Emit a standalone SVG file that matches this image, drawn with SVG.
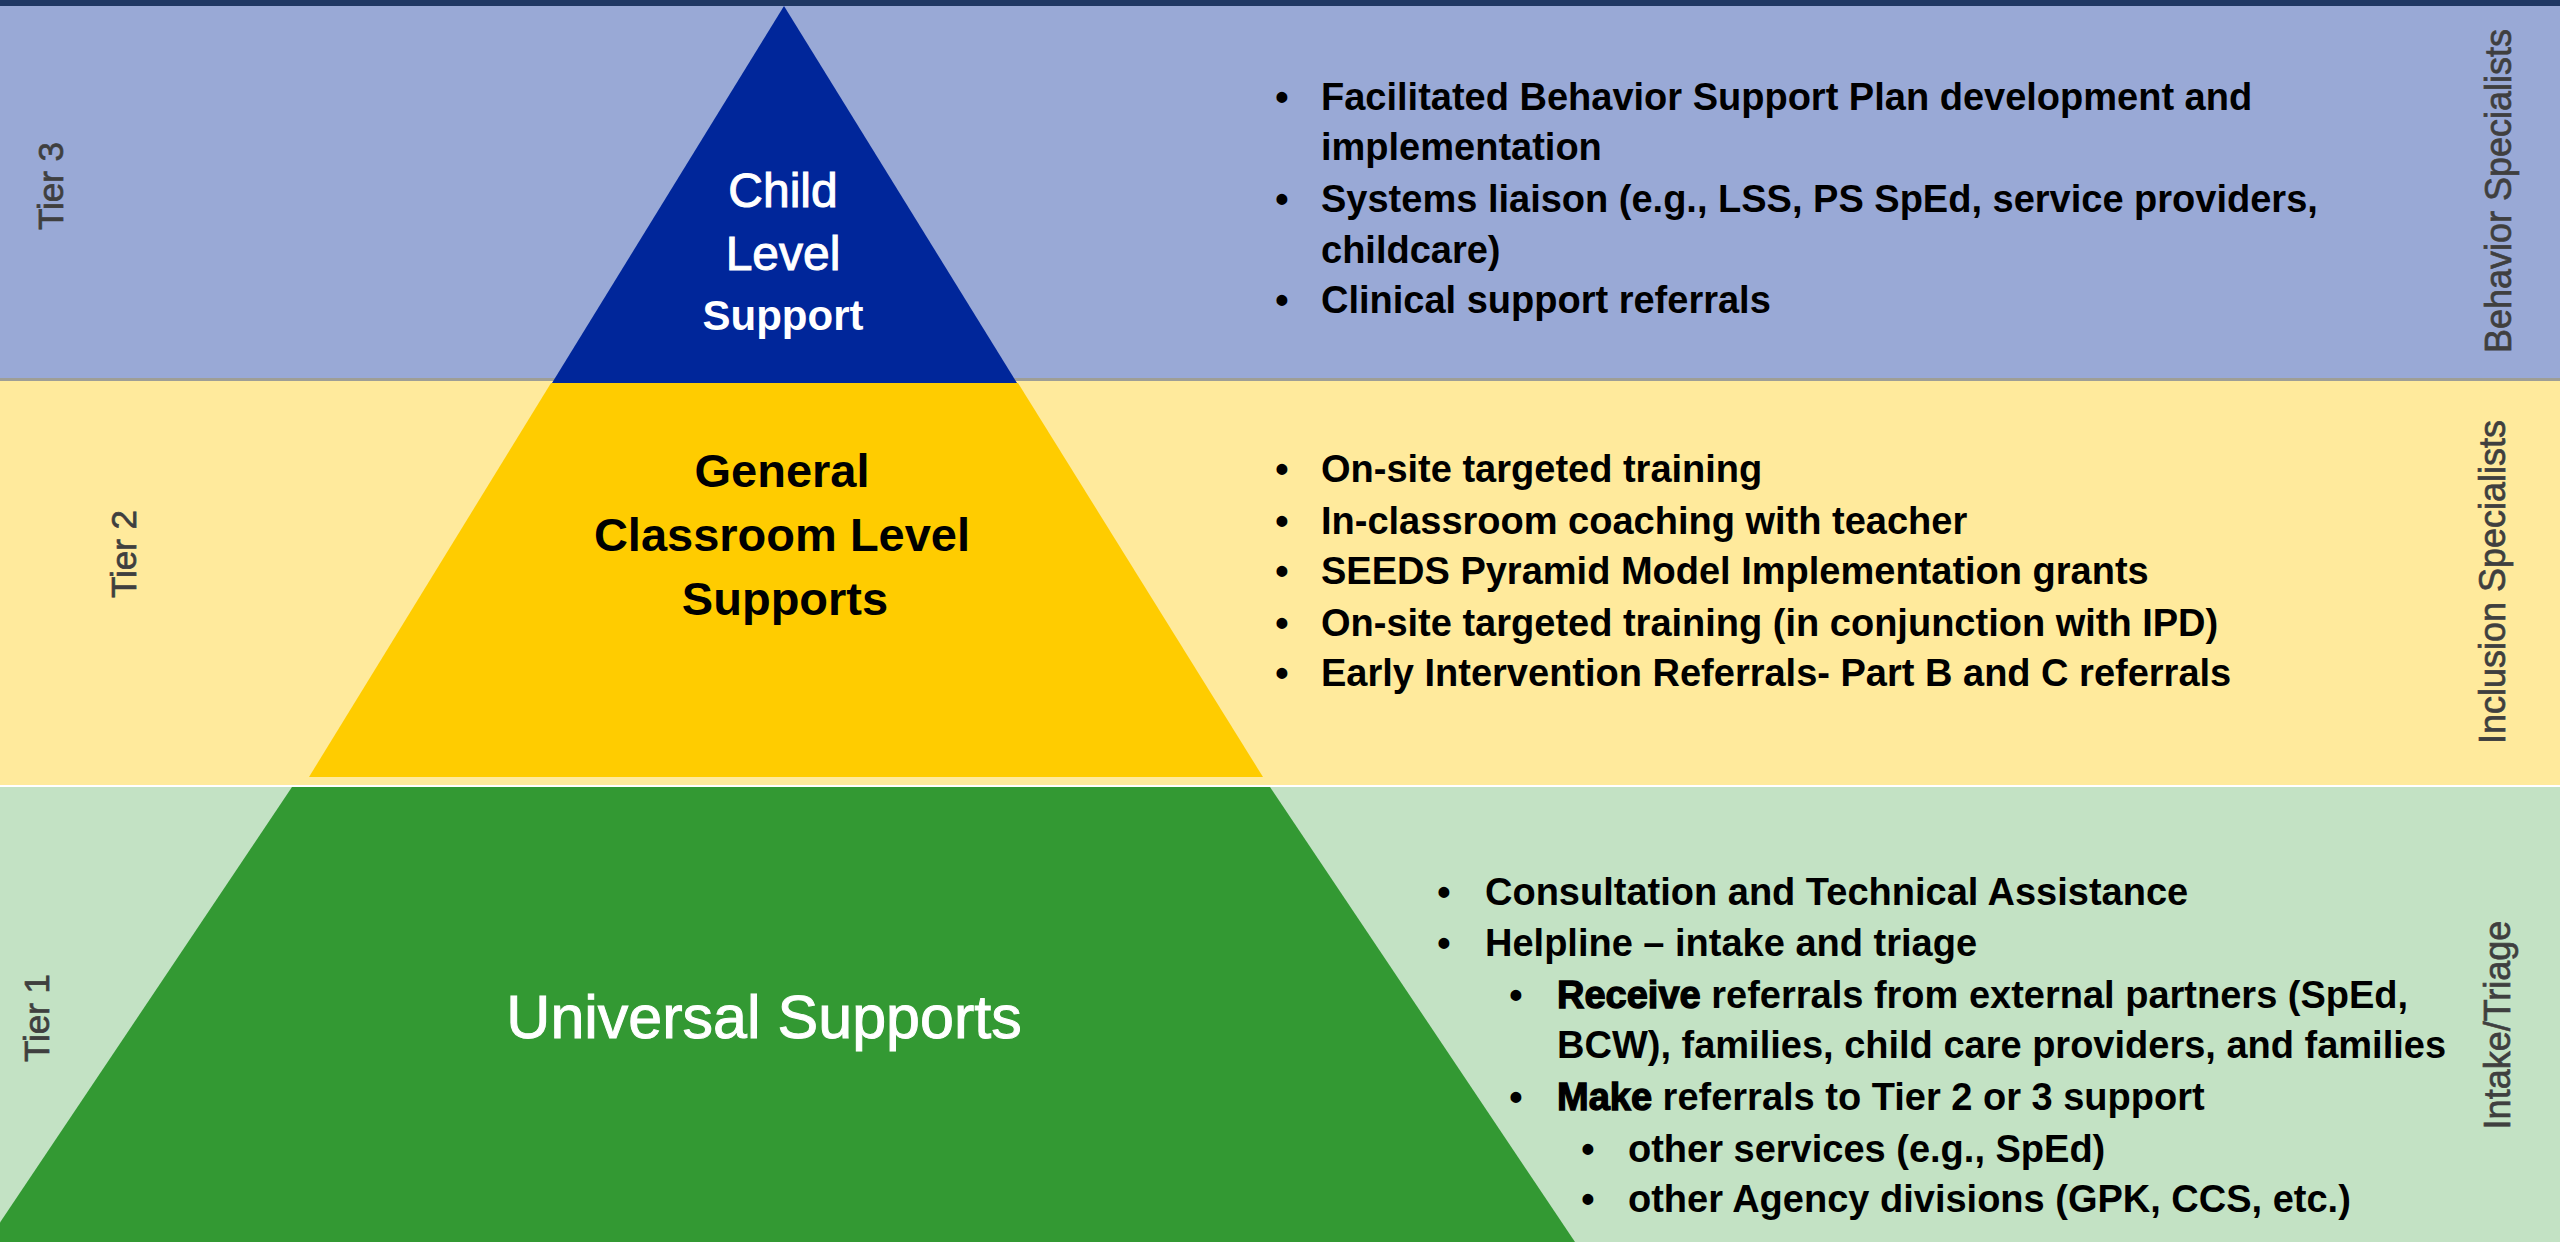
<svg xmlns="http://www.w3.org/2000/svg" width="2560" height="1242" viewBox="0 0 2560 1242">
<style>
.body{font-family:"Liberation Sans",Arial,sans-serif;font-weight:bold;font-size:38px;fill:#000}
.bul{font-family:"Liberation Sans",Arial,sans-serif;font-weight:bold;font-size:38px;fill:#000;text-anchor:middle}
.tier{font-family:"Liberation Sans",Arial,sans-serif;font-size:35px;fill:#3f3f3f;stroke:#3f3f3f;stroke-width:0.7;text-anchor:middle}
.side{font-family:"Liberation Sans",Arial,sans-serif;font-size:36px;fill:#3f3f3f;stroke:#3f3f3f;stroke-width:0.7;text-anchor:middle}
.ctr{font-family:"Liberation Sans",Arial,sans-serif;text-anchor:middle}
.heavy{stroke:#000;stroke-width:1.3}
</style>
<g id="backgrounds">
<rect x="0" y="0" width="2560" height="6" fill="#203864"/>
<rect x="0" y="6" width="2560" height="372" fill="#99a9d6"/>
<rect x="0" y="378" width="2560" height="3" fill="#9e9e96"/>
<rect x="0" y="381" width="2560" height="404" fill="#ffea9c"/>
<rect x="0" y="785" width="2560" height="2" fill="#ffffff"/>
<rect x="0" y="787" width="2560" height="455" fill="#c3e2c4"/>
</g>
<g id="tier3">
<polygon points="784,6 1017,383 552,383" fill="#00269a"/>
<text class="ctr" x="783" y="207" font-size="48" fill="#fff" stroke="#fff" stroke-width="1">Child</text>
<text class="ctr" x="783" y="270" font-size="48" fill="#fff" stroke="#fff" stroke-width="1">Level</text>
<text class="ctr" x="783" y="330" font-size="42" font-weight="bold" fill="#fff">Support</text>
<text class="tier" transform="translate(63,186) rotate(-90)">Tier 3</text>
<text class="side" transform="translate(2511,191) rotate(-90)">Behavior Specialists</text>
<text class="bul" x="1282" y="110">•</text>
<text class="body" x="1321" y="110">Facilitated Behavior Support Plan development and</text>
<text class="body" x="1321" y="160">implementation</text>
<text class="bul" x="1282" y="212">•</text>
<text class="body" x="1321" y="212">Systems liaison (e.g., LSS, PS SpEd, service providers,</text>
<text class="body" x="1321" y="263">childcare)</text>
<text class="bul" x="1282" y="313">•</text>
<text class="body" x="1321" y="313">Clinical support referrals</text>
</g>
<g id="tier2">
<polygon points="551,383 1018,383 1263,777 309,777" fill="#ffcc00"/>
<text class="ctr" x="782" y="487" font-size="47" font-weight="bold" fill="#000">General</text>
<text class="ctr" x="782" y="551" font-size="47" font-weight="bold" fill="#000">Classroom Level</text>
<text class="ctr" x="785" y="615" font-size="47" font-weight="bold" fill="#000">Supports</text>
<text class="tier" transform="translate(136,554) rotate(-90)">Tier 2</text>
<text class="side" transform="translate(2505,582) rotate(-90)">Inclusion Specialists</text>
<text class="bul" x="1282" y="482">•</text>
<text class="body" x="1321" y="482">On-site targeted training</text>
<text class="bul" x="1282" y="534">•</text>
<text class="body" x="1321" y="534">In-classroom coaching with teacher</text>
<text class="bul" x="1282" y="584">•</text>
<text class="body" x="1321" y="584">SEEDS Pyramid Model Implementation grants</text>
<text class="bul" x="1282" y="636">•</text>
<text class="body" x="1321" y="636">On-site targeted training (in conjunction with IPD)</text>
<text class="bul" x="1282" y="686">•</text>
<text class="body" x="1321" y="686">Early Intervention Referrals- Part B and C referrals</text>
</g>
<g id="tier1">
<polygon points="292,787 1270,787 1575,1242 -13,1242" fill="#339933"/>
<text class="ctr" x="764" y="1038" font-size="61" fill="#fff" stroke="#fff" stroke-width="1">Universal Supports</text>
<text class="tier" transform="translate(49,1018) rotate(-90)">Tier 1</text>
<text class="side" transform="translate(2510,1025) rotate(-90)">Intake/Triage</text>
<text class="bul" x="1444" y="905">•</text>
<text class="body" x="1485" y="905">Consultation and Technical Assistance</text>
<text class="bul" x="1444" y="956">•</text>
<text class="body" x="1485" y="956">Helpline – intake and triage</text>
<text class="bul" x="1516" y="1008">•</text>
<text class="body" x="1557" y="1008"><tspan class="heavy">Receive</tspan> referrals from external partners (SpEd,</text>
<text class="body" x="1557" y="1058">BCW), families, child care providers, and families</text>
<text class="bul" x="1516" y="1110">•</text>
<text class="body" x="1557" y="1110"><tspan class="heavy">Make</tspan> referrals to Tier 2 or 3 support</text>
<text class="bul" x="1588" y="1162">•</text>
<text class="body" x="1628" y="1162">other services (e.g., SpEd)</text>
<text class="bul" x="1588" y="1212">•</text>
<text class="body" x="1628" y="1212">other Agency divisions (GPK, CCS, etc.)</text>
</g>
</svg>
